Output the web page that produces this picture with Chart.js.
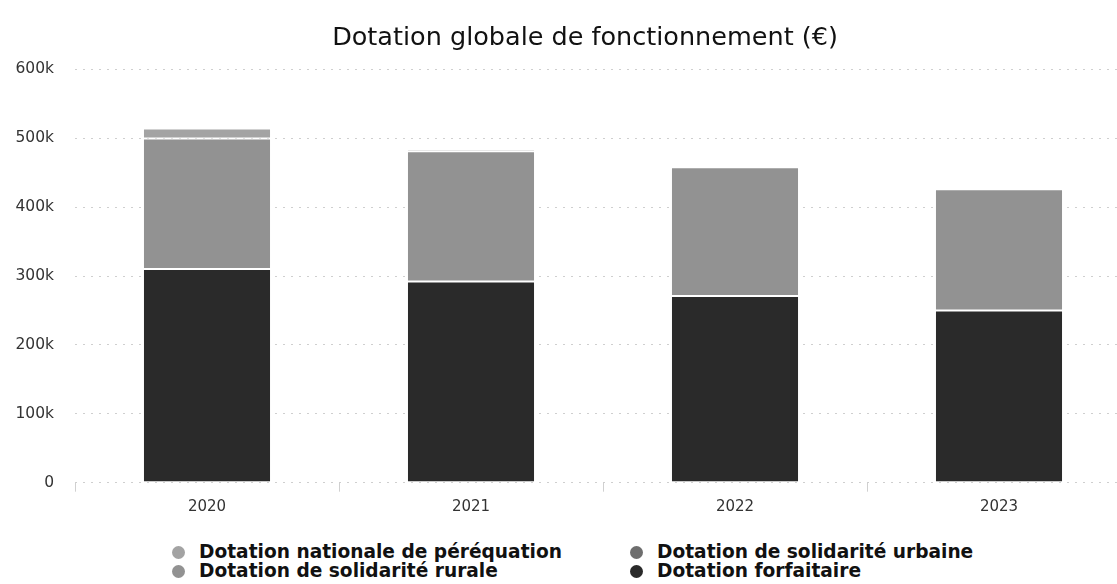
<!DOCTYPE html>
<html>
<head>
<meta charset="utf-8">
<script src="https://cdn.jsdelivr.net/npm/chart.js@4"></script>
<style>
  html, body { margin: 0; padding: 0; background: #fff; overflow: hidden; width: 1117px; height: 584px; }
  #wrap { position: absolute; left: 0; top: 0; width: 1135px; height: 530px; }
  #legend { position: absolute; left: 172px; top: 542px; font-family: "DejaVu Sans", sans-serif; font-weight: bold; font-size: 18.6px; color: #111; }
  .row { position: relative; height: 19px; white-space: nowrap; }
  .item { position: absolute; top: 0; line-height: 19px; }
  .dot { display: inline-block; width: 13px; height: 13px; border-radius: 50%; vertical-align: -1px; margin-right: 14px; }
</style>
</head>
<body>
<div id="wrap"><canvas id="c" width="1135" height="530"></canvas></div>
<div id="legend"></div>
<script>
const categories = ["2020", "2021", "2022", "2023"];
const forfaitaire = [310000, 292000, 271000, 250000];
const solidariteRurale = [189500, 189000, 187000, 176000];
const solidariteUrbaine = [0, 0, 0, 0];
const nationalePerequation = [14500, 3500, 0, 0];
const seriesNames = ["Dotation nationale de péréquation", "Dotation de solidarité urbaine", "Dotation de solidarité rurale", "Dotation forfaitaire"];
const seriesColors = ["#a3a3a3", "#6e6e6e", "#929292", "#2a2a2a"];
const yTicks = [0, 100000, 200000, 300000, 400000, 500000, 600000];
const yTickLabels = ["0", "100k", "200k", "300k", "400k", "500k", "600k"];
const titleText = "Dotation globale de fonctionnement (€)";

const mk = (i, data) => ({
  label: seriesNames[i], data, backgroundColor: seriesColors[i],
  borderColor: "#ffffff", borderWidth: 1, borderSkipped: false,
  categoryPercentage: 1.0, barPercentage: 0.485
});

const titlePlugin = {
  id: "offsetTitle",
  afterDraw(chart) {
    const ctx = chart.ctx;
    ctx.save();
    ctx.font = "25.5px 'DejaVu Sans'";
    ctx.fillStyle = "#111";
    ctx.textAlign = "center";
    ctx.textBaseline = "alphabetic";
    ctx.fillText(titleText, 585, 45);
    ctx.restore();
  }
};

new Chart(document.getElementById("c"), {
  type: "bar",
  data: {
    labels: categories,
    datasets: [mk(3, forfaitaire), mk(2, solidariteRurale), mk(1, solidariteUrbaine), mk(0, nationalePerequation)]
  },
  plugins: [titlePlugin],
  options: {
    responsive: false, animation: false,
    layout: { padding: { left: 0, right: 4, top: 69.3, bottom: 0 } },
    plugins: {
      legend: { display: false },
      tooltip: { enabled: false },
      title: { display: false }
    },
    scales: {
      x: {
        stacked: true,
        afterFit: (s) => { s.height = 47.3; },
        grid: { offset: true, drawOnChartArea: false, drawTicks: true, tickLength: 9, color: "#d0d0d0" },
        border: { display: false },
        ticks: { font: { family: "DejaVu Sans", size: 15 }, color: "#333", padding: 6 }
      },
      y: {
        stacked: true, min: 0, max: 600000,
        afterFit: (s) => { s.width = 75; },
        afterBuildTicks: (s) => { s.ticks = yTicks.map(v => ({ value: v })); },
        grid: { drawTicks: false, color: "#cfcfcf", lineWidth: 1 },
        border: { display: false, dash: [2, 6] },
        ticks: {
          font: { family: "DejaVu Sans", size: 15.5 }, color: "#333", padding: 21,
          callback: (v) => yTickLabels[yTicks.indexOf(v)]
        }
      }
    }
  }
});

const legend = document.getElementById("legend");
const order = [[0, 1], [2, 3]];
order.forEach(pair => {
  const row = document.createElement("div"); row.className = "row";
  pair.forEach((idx, col) => {
    const it = document.createElement("span"); it.className = "item";
    it.style.left = (col === 0 ? 0 : 458) + "px";
    const d = document.createElement("span"); d.className = "dot"; d.style.background = seriesColors[idx];
    it.appendChild(d); it.appendChild(document.createTextNode(seriesNames[idx]));
    row.appendChild(it);
  });
  legend.appendChild(row);
});
</script>
</body>
</html>
